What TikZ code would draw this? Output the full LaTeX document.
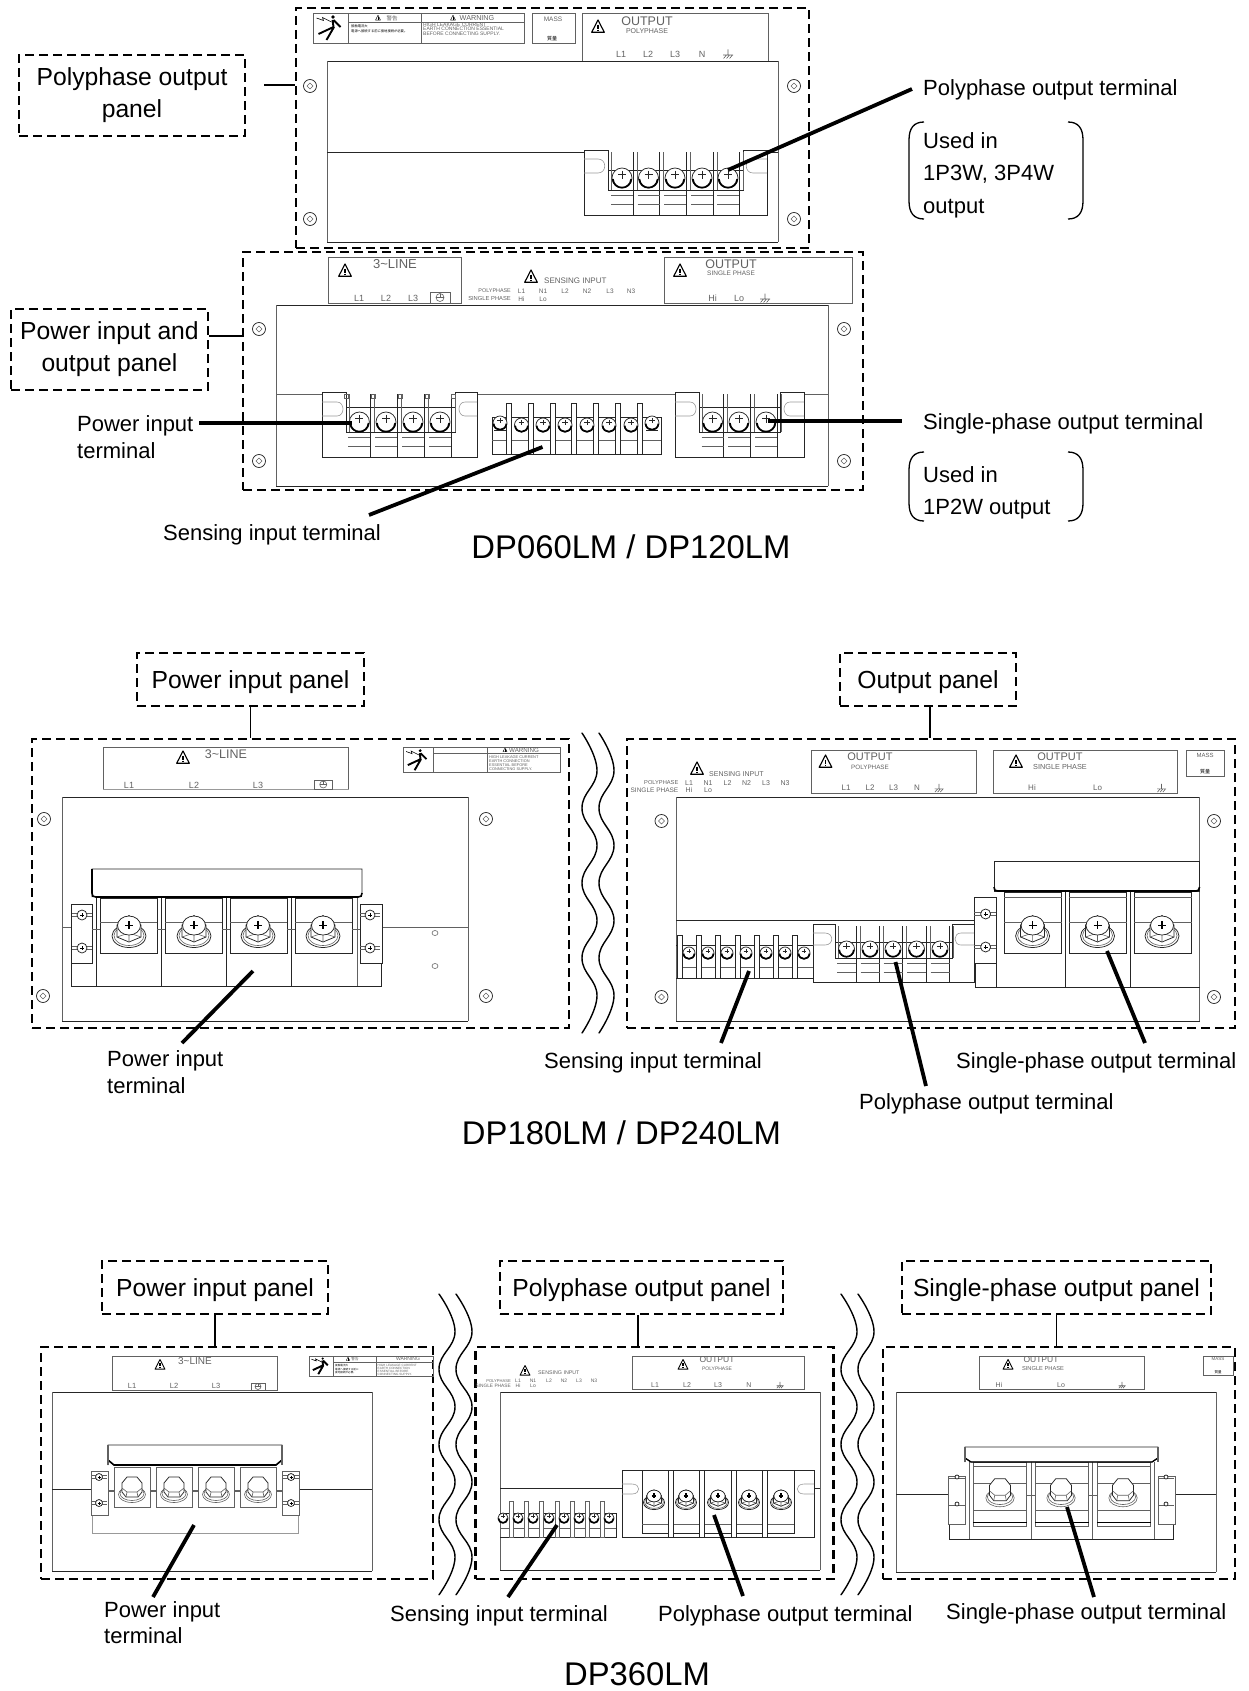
\documentclass[tikz,border=0pt]{standalone}
\usepackage{fontspec}
\setmainfont{Liberation Sans}
\newfontfamily\cjk{Noto Sans CJK JP}
\definecolor{cad}{gray}{0.15}
\definecolor{cadg}{gray}{0.38}
\definecolor{cadl}{gray}{0.6}
\newcount\txn
\tikzset{
  dbox/.style={draw=black,line width=2.1pt,dash pattern=on 9pt off 5pt,inner sep=0pt,align=center,font=\fontsize{24.7}{32}\selectfont},
  sbox/.style={dbox,text height=21pt,text depth=3.4pt},
  lbl/.style={inner sep=0pt,anchor=west,align=left,font=\fontsize{22}{26}\selectfont,text height=16pt,text depth=5pt,yshift=-2.5pt},
  ttl/.style={inner sep=0pt,font=\fontsize{32.8}{36}\selectfont,yshift=-1pt},
  lead/.style={draw=black,line width=3.8pt},
  tie/.style={draw=black,line width=1.7pt},
  cadl0/.style={draw=cad,line width=.75pt},
  soft/.style={draw=cadg,line width=.6pt},
  pale/.style={draw=cadl,line width=.6pt},
  wavy/.style={draw=black,line width=1.4pt,line cap=round},
  brk/.style={draw=black,line width=1.3pt},
  txt/.style={inner sep=0pt,text=cadg}
}
\newcommand\tx[4]{\global\advance\txn by 1 \node[txt,font=\fontsize{#1}{#1}\selectfont] (tx\the\txn) at (#2,#3) {#4};}
\newcommand\txr[4]{\global\advance\txn by 1 \node[txt,anchor=east,font=\fontsize{#1}{#1}\selectfont] (tx\the\txn) at (#2,#3) {#4};}
\newcommand\txl[4]{\global\advance\txn by 1 \node[txt,anchor=west,font=\fontsize{#1}{#1}\selectfont] (tx\the\txn) at (#2,#3) {#4};}
% chassis outline: dark top and bottom, lighter sides
\newcommand\chassis[4]{\draw[cadl0] (#1,#2)--(#3,#2) (#1,#4)--(#3,#4);\draw[soft] (#1,#2)--(#1,#4) (#3,#2)--(#3,#4);}
% panel screw
\newcommand\pscr[2]{\draw[cadl0] (#1,#2) circle (6.5pt);\draw[soft,line width=.5pt] (#1-3,#2)--(#1,#2-3)--(#1+3,#2)--(#1,#2+3)--cycle;}
% terminal screw
\newcommand\tsc[3]{\draw[cadl0,fill=white] (#1,#2) circle (#3pt);
 \draw[black,line width=1.7pt] (#1-.92*#3,#2+.1*#3) .. controls (#1-.8*#3,#2+1.25*#3) and (#1+.8*#3,#2+1.25*#3) .. (#1+.92*#3,#2+.1*#3);
 \draw[cadl0] (#1-.4*#3,#2-.35*#3)--(#1+.4*#3,#2-.35*#3) (#1,#2-.75*#3)--(#1,#2+.05*#3);}
% warning triangle
\newcommand\wtri[3]{\draw[black,line width=.16*#3 pt,line join=round] (#1,#2-#3)--(#1-.9*#3,#2+.75*#3)--(#1+.9*#3,#2+.75*#3)--cycle;
 \draw[black,line width=.2*#3 pt] (#1,#2-.35*#3)--(#1,#2+.25*#3) (#1,#2+.38*#3)--(#1,#2+.56*#3);}
% earth symbol
\newcommand\gndm[3]{\draw[soft] (#1,#2-4.5*#3)--(#1,#2+1*#3) (#1-5*#3,#2+1*#3)--(#1+5*#3,#2+1*#3)
 (#1-4.5*#3,#2+4.5*#3)--(#1-1.5*#3,#2+1*#3) (#1-1.5*#3,#2+4.5*#3)--(#1+1.5*#3,#2+1*#3) (#1+1.5*#3,#2+4.5*#3)--(#1+4.5*#3,#2+1*#3);}
% protective earth in a frame
\newcommand\pegr[5]{\draw[soft] (#1,#4)--(#1,#3)--(#2,#3)--(#2,#4)--cycle;
 \draw[soft] ({(#1+#2)/2},{(#3+#4)/2}) circle (#5pt);
 \draw[soft] ({(#1+#2)/2-#5},{(#3+#4)/2})--({(#1+#2)/2+#5},{(#3+#4)/2}) ({(#1+#2)/2},{(#3+#4)/2-#5})--({(#1+#2)/2},{(#3+#4)/2});}
% shock pictogram
\newcommand\shock[3]{\begin{scope}[shift={(#1,#2)},scale=#3]
 \fill[black] (2.5,-11) circle (1.8pt);
 \draw[black,line width=.6pt] (-14,-10)--(-7,-7.5)--(-8,-10.5)--(1,-6);
 \draw[black,line width=1.9pt] (2,-8)--(3,-1)--(-12,6) (3.5,-1)--(-4,12) (3,-8)--(10,-1) ;
 \end{scope}}
% slot in an ear: outer x, x of the bulge, y top, y bottom, x where the curve starts
\newcommand\slotc[5]{\draw[pale] (#1,#3)--(#5,#3) .. controls (#2,#3) and (#2,#4) .. (#5,#4)--(#1,#4);}
% terminal block with two slotted ears
\def\so{11}\def\sw{4}
\newcommand\tblock[9]{
 \draw[cadl0] (#2,#7)--(#2,#5)--(#1,#5)--(#1,#8)--(#4,#8)--(#4,#5)--(#3,#5)--(#3,#7);
 \draw[cadl0] (#2,#6) rectangle (#3,#7);
 \draw[soft] (#2+3,#5+2)--(#2+3,#7);
 \foreach \s in {#9}{
  \draw[cadl0] (\s+\so,#5+2)--(\s+\so,#8);
  \draw[soft] (\s+\so+\sw,#5+2)--(\s+\so+\sw,#7);
  \draw[soft] (\s-\so,#7+5)--(\s+\so,#7+5) (\s-\so,#7+14)--(\s+\so,#7+14);
 }
}
% hexagon bolt with a round, cross-slotted head
\newcommand\hexbolt[3]{\begin{scope}[shift={(#1,#2)},scale=#3]
 \draw[cadl0,fill=white] (0,4) ellipse (17pt and 11.5pt);
 \draw[soft] (0,3.5) ellipse (15pt and 10pt);
 \draw[cadl0,fill=white] (-12,-7)--(0,-16.5)--(12,-7)--(12,5)--(0,10)--(-12,5)--cycle;
 \draw[soft] (0,1)--(0,10) (0,1)--(-12,5) (0,1)--(12,5);
 \draw[cadl0,fill=white] (0,-6.5) ellipse (11.5pt and 9.5pt);
 \draw[black,line width=1.3pt] (-4,-6.5)--(4,-6.5) (0,-11)--(0,-3);
 \end{scope}}
% hexagon bolt with a plain head
\newcommand\plainbolt[4]{\begin{scope}[shift={(#1,#2)},xscale=#3,yscale=#4]
 \draw[soft,fill=white] (0,4.5) ellipse (13.5pt and 8pt);
 \draw[soft] (0,3.5) ellipse (12pt and 7pt);
 \draw[cadl0,fill=white] (-10,2)--(-10,-7)--(-5,-13)--(5,-13)--(10,-7)--(10,2)--(6,7)--(-6,7)--cycle;
 \draw[soft] (-10,-2)--(-5,2)--(5,2)--(10,-2) (-5,2)--(-6,7) (5,2)--(6,7);
 \end{scope}}
% small bracket pair of the notes
\newcommand\brkt[4]{\draw[brk] (#1+16,#3) .. controls (#1+6,#3) and (#1+1,#3+6) .. (#1+1,#3+18)--(#1+1,#4-18) .. controls (#1+1,#4-6) and (#1+6,#4) .. (#1+16,#4);
 \draw[brk] (#2-16,#3) .. controls (#2-6,#3) and (#2-1,#3+6) .. (#2-1,#3+18)--(#2-1,#4-18) .. controls (#2-1,#4-6) and (#2-6,#4) .. (#2-16,#4);}
% wavy break line
\newcommand\wave[4]{\draw[wavy] plot[smooth,tension=.75] coordinates {(#1,#3) (#2,{#3+#4}) (#1,{#3+2*#4}) (#2,{#3+3*#4}) (#1,{#3+4*#4}) (#2,{#3+5*#4}) (#1,{#3+6*#4}) (#2,{#3+7*#4}) (#1,{#3+8*#4})};}
\begin{document}
\begin{tikzpicture}[x=1pt,y=-1pt]
\useasboundingbox (0,0) rectangle (1249,1691);
%% ===================== DP060LM / DP120LM =====================
\node[dbox,minimum width=513pt,minimum height=240pt] (pa) at (552.5,128) {};
\node[dbox,minimum width=620pt,minimum height=238pt] (pb) at (553,371) {};
\node[dbox,minimum width=226pt,minimum height=81pt] (ba) at (132,95.5) {Polyphase output\\panel};
\node[dbox,minimum width=197pt,minimum height=81pt] (bb) at (109.5,349.5) {Power input and\\output panel};
\coordinate (tb) at (bb.east |- 0,336);
\draw[tie] (264,85)--(pa.west |- 0,85);
\draw[tie] (tb)--(pb.west |- tb);
% top panel
\draw[soft] (313,13) rectangle (524,43) (348,13)--(348,43) (421,13)--(421,43) (348,22)--(524,22);
\shock{330.5}{28}{1}
\wtri{378}{18}{2.8}
\tx{5.5}{392}{18}{\cjk 警告}
\wtri{453}{18}{2.8}
\tx{7.2}{477}{18}{WARNING}
\txl{3.3}{351}{26}{\cjk\color{black} 接触電流大}
\txl{3.3}{351}{31}{\cjk\color{black} 電源へ接続する前に接地接続が必要。}
\txl{5}{423}{25}{HIGH LEAKAGE CURRENT}
\txl{5}{423}{29}{EARTH CONNECTION ESSENTIAL}
\txl{5}{423}{33.5}{BEFORE CONNECTING SUPPLY.}
\draw[soft] (532,13) rectangle (575,43);
\tx{6.5}{553}{19}{MASS}
\tx{5}{552}{39}{\cjk\color{black} 質量}
\draw[soft] (582,13) rectangle (768,61);
\wtri{598}{27}{7}
\tx{12.5}{647}{21}{OUTPUT}
\tx{7}{647}{31}{POLYPHASE}
\foreach \x/\t in {621/L1,648/L2,675/L3,702/N}{\tx{9}{\x}{54}{\t}}
\gndm{728}{54}{1}
\chassis{327}{61}{778}{242}
\draw[cadl0] (327,152)--(584,152) (767,152)--(778,152);
\pscr{310}{86}\pscr{310}{219}\pscr{794}{86}\pscr{794}{219}
\def\so{11}\def\sw{4}
\tblock{584}{608}{743}{767}{150}{170}{190}{215}{622,648.5,675,702,728}
\slotc{584}{607}{159}{173}{598}
\slotc{767}{744}{159}{173}{753}
\foreach \x in {622,648.5,675,702,728}{\tsc{\x}{178}{10}}
% second panel
\draw[soft] (328,257) rectangle (461,303);
\wtri{345}{271}{7}
\tx{13}{395}{264}{3\textasciitilde LINE}
\foreach \x/\t in {359/L1,386/L2,413/L3}{\tx{9}{\x}{298}{\t}}
\pegr{430}{450}{292}{303}{4}
\wtri{531}{277}{7}
\txl{8}{544}{281}{SENSING INPUT}
\txr{5.4}{511}{291}{POLYPHASE}
\txr{5.8}{511}{299}{SINGLE PHASE}
\foreach \x/\t in {521.5/L1,543/N1,565/L2,587/N2,610/L3,631/N3}{\tx{6.5}{\x}{291}{\t}}
\foreach \x/\t in {521.5/Hi,543/Lo}{\tx{6.5}{\x}{299}{\t}}
\draw[soft] (664,257) rectangle (852,303);
\wtri{680}{271}{7}
\tx{12.5}{731}{264}{OUTPUT}
\tx{6.5}{731}{273}{SINGLE PHASE}
\foreach \x/\t in {712.5/Hi,739/Lo}{\tx{9}{\x}{298}{\t}}
\gndm{765}{298}{1}
\chassis{276}{305}{828}{486}
\draw[soft] (276,394)--(322,394) (477,394)--(675,394) (804,394)--(828,394);
\pscr{259}{329}\pscr{259}{461}\pscr{844}{329}\pscr{844}{461}
\tblock{322}{346}{455.5}{477}{392}{407}{432}{457}{359.4,386,413,440}
\slotc{322}{345}{402}{416}{337}
\slotc{477}{457}{402}{416}{465}
\foreach \x in {346,373,400,427,453}{\draw[soft] (\x-2,394) rectangle (\x+2,398);}
\foreach \x in {359.4,386,413,440}{\tsc{\x}{422}{10}}
\tblock{675}{699}{780.5}{804}{392}{407}{432}{457}{712.5,739,766}
\slotc{675}{698}{402}{416}{690}
\slotc{804}{782}{402}{416}{790}
\foreach \x in {712.5,739,766}{\tsc{\x}{422}{10}}
% sensing block
\draw[cadl0] (492,417) rectangle (661,454);
\draw[soft] (492,440)--(661,440);
\foreach \x in {509,531,553,574,596,618,640}{\draw[cadl0,fill=white] (\x-2.5,403) rectangle (\x+2.5,454);}
\foreach \x in {521.5,543,565,587,609,631}{\tsc{\x}{425}{7}}
\foreach \x in {500,652}{\tsc{\x}{423}{7}\draw[cadl0] (\x-6,430) -- (\x+6,430);}
% labels
\node[lbl] (t1) at (923,88) {Polyphase output terminal};
\node[lbl] (u1a) at (923,140) {Used in};
\node[lbl] (u1b) at (923,172) {1P3W, 3P4W};
\node[lbl] (u1c) at (923,205) {output};
\brkt{908}{1084}{122}{219}
\node[lbl] (t2) at (77,423) {Power input};
\node[lbl] (t2b) at (77,450) {terminal};
\node[lbl] (t3) at (163,532) {Sensing input terminal};
\node[lbl] (t4) at (923,421) {Single-phase output terminal};
\node[lbl] (u2a) at (923,474) {Used in};
\node[lbl] (u2b) at (923,506) {1P2W output};
\brkt{908}{1084}{452}{521}
\node[ttl] (ta) at (631,546) {DP060LM / DP120LM};
\coordinate (c1) at (728,170);
\coordinate (c2) at (352,423);
\coordinate (c3a) at (542.5,447);
\coordinate (c3b) at (369,515);
\coordinate (c4) at (768,421);
\coordinate (c1e) at (912,89);
\coordinate (c2e) at (199,423);
\coordinate (c4e) at (902,421);
\draw[lead] (c1)--(c1e);
\draw[lead] (c2)--(c2e);
\draw[lead] (c3a)--(c3b);
\draw[lead] (c4)--(c4e);
%% ===================== DP180LM / DP240LM =====================
\node[dbox,minimum width=537pt,minimum height=289pt] (pc) at (300.5,883.5) {};
\node[dbox,minimum width=608pt,minimum height=289pt] (pd) at (931,883.5) {};
\node[sbox,minimum width=227pt,minimum height=53pt] (bc) at (250.5,679.5) {Power input panel};
\node[sbox,minimum width=176pt,minimum height=53pt] (bd) at (928,679.5) {Output panel};
\draw[tie] (bc.south)--(bc.south |- pc.north);
\draw[tie] ([xshift=2pt]bd.south)--([xshift=2pt]bd.south |- pd.north);
\wave{582}{597}{733}{37.5}
\wave{599}{614}{733}{37.5}
% left panel
\draw[soft] (103,789)--(103,747)--(348.5,747)--(348.5,789);
\draw[pale] (103,789)--(348.5,789);
\wtri{183}{758}{7}
\tx{12.5}{226}{754}{3\textasciitilde LINE}
\foreach \x/\t in {129/L1,194/L2,258/L3}{\tx{9}{\x}{785}{\t}}
\pegr{314.5}{332}{780}{789}{3.5}
\draw[soft] (403,747) rectangle (560,772) (433,747)--(433,772) (487,747)--(487,772) (433,753)--(560,753);
\shock{418}{760}{.85}
\wtri{505}{750}{2.3}
\tx{6.2}{524}{750}{WARNING}
\txl{3.9}{489}{757}{HIGH LEAKAGE CURRENT}
\txl{3.9}{489}{761}{EARTH CONNECTION}
\txl{3.9}{489}{765}{ESSENTIAL BEFORE}
\txl{3.9}{489}{769}{CONNECTING SUPPLY.}
\chassis{62}{797}{468}{1021}
\draw[soft] (62,927)--(71,927) (382,927)--(468,927);
\pscr{44}{819}\pscr{43}{996}\pscr{486}{819}\pscr{486}{996}
\draw[cadl0] (71,963)--(71,986)--(381,986)--(381,963);
\draw[cadl0] (71,904) rectangle (92,963);
\draw[cadl0] (360,963)--(360,904)--(382,904)--(382,963)--cycle;
\foreach \x/\y in {82/915,82/948,370/915,370/948}{
 \draw[soft] (\x-10,\y+1)--(\x+10,\y+1) (\x-10,\y-2)--(\x+10,\y-2);
 \draw[cadl0,fill=white] (\x,\y) circle (5pt);
 \draw[black,line width=.8pt] (\x-2,\y)--(\x+2,\y) (\x,\y-2)--(\x,\y+2);}
\foreach \x in {96,161,226,291}{\draw[cadl0] (\x,898)--(\x,986);}
\draw[soft] (357,898)--(357,986);
\foreach \x in {100,165,230,295}{
 \draw[cadl0] (\x,898) rectangle (\x+57,953);
 \draw[soft] (\x,922)--(\x+57,922);}
\draw[soft] (92,929)--(100,929) (157,929)--(165,929) (222,929)--(230,929) (287,929)--(295,929) (352,929)--(360,929);
\draw[cadl0,fill=white] (92,897)--(92,869)--(362,869)--(362,893) .. controls (362,896) and (361,897) .. (358,897)--(96,897) .. controls (93,897) and (92,896) .. (92,893);
\draw[black,line width=1.6pt] (92,869)--(92,893) .. controls (92,896) and (93,897) .. (96,897)--(358,897) .. controls (361,897) and (362,896) .. (362,893);
\foreach \x in {129,194,258,323}{\hexbolt{\x}{932}{1}}
\draw[soft] (435,933) ellipse (3pt and 2.5pt) (435,966) ellipse (3pt and 2.5pt);
% right panel
\wtri{697}{769}{7}
\txl{7}{709}{774}{SENSING INPUT}
\txr{5.7}{678.5}{783}{POLYPHASE}
\txr{6.5}{678.5}{790}{SINGLE PHASE}
\foreach \x/\t in {689/L1,708/N1,727.5/L2,746.5/N2,766/L3,785/N3}{\tx{7}{\x}{783}{\t}}
\foreach \x/\t in {689/Hi,708/Lo}{\tx{7}{\x}{790}{\t}}
\draw[soft] (811,750) rectangle (976,793);
\wtri{825.5}{762}{7}
\tx{11}{870}{757}{OUTPUT}
\tx{6.3}{870}{767}{POLYPHASE}
\foreach \x/\t in {846/L1,870/L2,893.5/L3,917/N}{\tx{8}{\x}{788}{\t}}
\gndm{939}{788}{.9}
\draw[soft] (993,750) rectangle (1177,793);
\wtri{1016}{762}{7}
\tx{11}{1060}{757}{OUTPUT}
\tx{7.3}{1060}{767}{SINGLE PHASE}
\foreach \x/\t in {1032/Hi,1097.5/Lo}{\tx{8}{\x}{788}{\t}}
\gndm{1161.5}{788}{.9}
\draw[soft] (1186,750) rectangle (1224,776);
\tx{6}{1205}{755}{MASS}
\tx{5}{1205}{772}{\cjk\color{black} 質量}
\chassis{676}{797}{1199.5}{1021}
\pscr{661.5}{821}\pscr{661.5}{997}\pscr{1214}{821}\pscr{1214}{997}
\draw[cadl0] (676,920)--(974,920);
% sensing strip
\draw[cadl0] (676,945)--(812.5,945) (676,978)--(812.5,978);
\draw[soft] (676,967)--(812.5,967);
\foreach \x in {679.5,698.5,718,737.5,756.5,775.5,794.5}{\draw[cadl0,fill=white] (\x-2.5,935) rectangle (\x+2.5,978);}
\foreach \x in {689,708,727,746,766,785,804}{\tsc{\x}{953}{6}}
% polyphase block
\def\so{9.5}
\tblock{813}{835.5}{952}{974}{924}{942}{958}{982}{846.5,870,893,916.5,940}
\slotc{813}{834}{933}{945}{825}
\slotc{974}{953}{933}{945}{961}
\foreach \x in {846.5,870,893,916.5,940}{\tsc{\x}{949}{8}}
\def\so{11}
% single phase
\draw[cadl0] (975,963)--(975,987)--(1199.5,987);
\draw[cadl0] (974,897) rectangle (996,963);
\foreach \y in {914,947}{
 \draw[soft] (974,\y+1)--(996,\y+1) (974,\y-2)--(996,\y-2);
 \draw[cadl0,fill=white] (985.6,\y) circle (5pt);
 \draw[black,line width=.8pt] (983.6,\y)--(987.6,\y) (985.6,\y-2)--(985.6,\y+2);}
\draw[cadl0] (996,963)--(996,987) (1065,892)--(1065,987) (1130,892)--(1130,987);
\foreach \x in {1004,1069,1134}{
 \draw[cadl0] (\x,892) rectangle (\x+57.5,953);
 \draw[soft] (\x,897)--(\x+57.5,897) (\x,922)--(\x+57.5,922);}
\draw[cadl0,fill=white] (994,891)--(994,861)--(1199.5,861)--(1199.5,891)--cycle;
\draw[black,line width=1.6pt] (994,887) .. controls (994,890) and (995,891) .. (998,891)--(1196,891) .. controls (1198,891) and (1199.5,890) .. (1199.5,887);
\foreach \x in {1032.6,1097.5,1162}{\hexbolt{\x}{932}{1}}
% labels
\node[lbl] (t5) at (107,1058) {Power input};
\node[lbl] (t5b) at (107,1085) {terminal};
\node[lbl] (t6) at (544,1060) {Sensing input terminal};
\node[lbl] (t7) at (956,1060) {Single-phase output terminal};
\node[lbl] (t8) at (859,1101) {Polyphase output terminal};
\node[ttl] (tb2) at (621.5,1132) {DP180LM / DP240LM};
\coordinate (d1a) at (253,971);\coordinate (d1b) at (182,1043);
\coordinate (d2a) at (749,971);\coordinate (d2b) at (721,1043);
\coordinate (d3a) at (895.5,962);\coordinate (d3b) at (926,1086);
\coordinate (d4a) at (1107,951);\coordinate (d4b) at (1145,1043);
\draw[lead] (d1a)--(d1b);\draw[lead] (d2a)--(d2b);\draw[lead] (d3a)--(d3b);\draw[lead] (d4a)--(d4b);
%% ===================== DP360LM =====================
\node[dbox,minimum width=392pt,minimum height=232pt] (pe) at (237,1463) {};
\node[dbox,minimum width=358pt,minimum height=232pt] (pf) at (654.5,1463) {};
\node[dbox,minimum width=352pt,minimum height=232pt] (pg) at (1059,1463) {};
\node[sbox,minimum width=226pt,minimum height=53pt] (be) at (215,1287.5) {Power input panel};
\node[sbox,minimum width=283pt,minimum height=53pt] (bf) at (641.5,1287.5) {Polyphase output panel};
\node[sbox,minimum width=309pt,minimum height=53pt] (bg) at (1056.5,1287.5) {Single-phase output panel};
\draw[tie] (be.south)--(be.south |- pe.north);
\draw[tie] ([xshift=-3.5pt]bf.south)--([xshift=-3.5pt]bf.south |- pf.north);
\draw[tie] (bg.south)--(bg.south |- pg.north);
\wave{439}{455}{1294}{37.6}
\wave{456}{472}{1294}{37.6}
\wave{841}{857}{1294}{37.6}
\wave{858}{874}{1294}{37.6}
% left
\draw[soft] (112.7,1356) rectangle (277.7,1390);
\wtri{160}{1365}{5.5}
\tx{10}{195}{1361}{3\textasciitilde LINE}
\foreach \x/\t in {132/L1,174/L2,216/L3}{\tx{7.5}{\x}{1386}{\t}}
\pegr{251}{265}{1383}{1390}{3}
\draw[soft] (309,1356) rectangle (433,1376) (333,1356)--(333,1376) (376,1356)--(376,1376) (333,1362)--(433,1362);
\shock{321}{1366}{.68}
\wtri{348}{1359}{2}
\tx{3.6}{355}{1359}{\cjk 警告}
\tx{5}{408}{1359}{WARNING}
\txl{2.6}{335}{1365.5}{\cjk\color{black} 接触電流大}
\txl{2.6}{335}{1369}{\cjk\color{black} 電源へ接続する前に}
\txl{2.6}{335}{1372.5}{\cjk\color{black} 接地接続が必要。}
\txl{3.1}{377.5}{1365}{HIGH LEAKAGE CURRENT}
\txl{3.1}{377.5}{1368}{EARTH CONNECTION}
\txl{3.1}{377.5}{1371}{ESSENTIAL BEFORE}
\txl{3.1}{377.5}{1374}{CONNECTING SUPPLY.}
\chassis{52}{1392}{372}{1571}
\draw[cadl0] (52,1489)--(91,1489) (299,1489)--(372,1489);
\draw[pale] (92,1515)--(92,1533)--(298,1533)--(298,1515);
\foreach \x in {91,282}{\draw[soft,fill=white] (\x,1471) rectangle (\x+17,1515);}
\foreach \x/\y in {99/1477,99/1503,291/1477,291/1503}{
 \draw[soft] (\x-8,\y+1)--(\x+8,\y+1) (\x-8,\y-2)--(\x+8,\y-2);
 \draw[cadl0,fill=white] (\x,\y) circle (3.5pt);
 \draw[black,line width=.7pt] (\x-1.5,\y)--(\x+1.5,\y) (\x,\y-1.5)--(\x,\y+1.5);}
\draw[cadl0,fill=white] (108,1465)--(108,1445)--(282,1445)--(282,1460)--(276,1465)--(114,1465)--(108,1460);
\draw[black,line width=1.6pt] (108,1460)--(114,1465)--(276,1465)--(282,1460);
\draw[cadg,line width=1.8pt] (108,1445)--(108,1465) (282,1445)--(282,1465);
\draw[soft,line width=1.4pt] (108,1491)--(282,1491);
\foreach \x in {114,156,198,240}{\draw[soft,fill=white] (\x,1467) rectangle (\x+36,1507);}
\foreach \x in {132,174,216,258}{\plainbolt{\x}{1490}{1}{1}}
% middle
\wtri{525}{1371}{5.5}
\txl{5.3}{538}{1373}{SENSING INPUT}
\txr{4.1}{511}{1381}{POLYPHASE}
\txr{4.8}{511}{1386}{SINGLE PHASE}
\foreach \x/\t in {518/L1,533/N1,549/L2,564/N2,579/L3,594/N3}{\tx{5}{\x}{1381}{\t}}
\foreach \x/\t in {518/Hi,533/Lo}{\tx{5}{\x}{1386}{\t}}
\draw[soft] (632,1356) rectangle (804,1389);
\wtri{683}{1365}{5.5}
\tx{8.5}{717}{1360}{OUTPUT}
\tx{5}{717}{1369}{POLYPHASE}
\foreach \x/\t in {655/L1,687/L2,718/L3,749/N}{\tx{7}{\x}{1385}{\t}}
\gndm{780}{1385}{.7}
\chassis{500}{1392}{820}{1570}
\draw[cadl0] (500,1488)--(622,1488) (814,1488)--(820,1488);
\draw[cadl0] (500,1513)--(616,1513) (616,1513)--(616,1537)--(500,1537);
\draw[soft] (500,1528)--(616,1528);
\foreach \x in {511,526,541,557,572,587,602}{\draw[soft,fill=white] (\x-2,1501) rectangle (\x+2,1537);}
\foreach \x in {503,518,533,549,564,579,594,609}{\tsc{\x}{1518}{5}}
\draw[cadl0] (622,1537) rectangle (814,1470);
\draw[cadl0] (642,1470)--(642,1533)--(794,1533)--(794,1470);
\draw[soft] (642,1524)--(794,1524);
\foreach \x in {670.5,702,734,765}{\draw[cadl0,fill=white] (\x-2.5,1470) rectangle (\x+2.5,1537);}
\slotc{622}{641}{1484}{1494}{632}
\slotc{814}{795}{1484}{1494}{804}
\foreach \x in {654,686,718,749,781}{\hexbolt{\x}{1500}{.62}}
% right
\draw[soft] (979,1356) rectangle (1144,1389);
\wtri{1008}{1365}{5.5}
\tx{8.5}{1041}{1360}{OUTPUT}
\tx{5.7}{1043}{1369}{SINGLE PHASE}
\foreach \x/\t in {999/Hi,1061/Lo}{\tx{7}{\x}{1385}{\t}}
\gndm{1122}{1385}{.7}
\draw[soft] (1203,1356) rectangle (1233,1375);
\tx{4.5}{1218}{1359}{MASS}
\tx{3.5}{1218}{1372}{\cjk\color{black} 質量}
\chassis{896}{1392}{1216}{1572}
\draw[cadl0] (896,1494)--(948,1494) (1175,1494)--(1216,1494);
\draw[cadl0] (949,1524)--(949,1539)--(1173,1539)--(1173,1524);
\foreach \x in {948,1158}{\draw[soft,fill=white] (\x,1476) rectangle (\x+17,1524);}
\foreach \x/\y in {957/1477,957/1504,1166/1477,1166/1504}{
 \draw[soft] (\x-8,\y+1)--(\x+8,\y+1);
 \draw[cadl0,fill=white] (\x,\y) circle (2pt);}
\foreach \x in {969,1031,1092,1154}{\draw[soft] (\x,1462)--(\x,1539);}
\foreach \x in {973,1035,1097}{
 \draw[soft,fill=white] (\x,1462) rectangle (\x+53.5,1526);
 \draw[soft] (\x,1466)--(\x+53.5,1466) (\x,1483)--(\x+53.5,1483) (\x,1510)--(\x+53.5,1510);
 \draw[black,line width=1pt] (\x,1522)--(\x+53.5,1522);}
\draw[soft] (1027,1495)--(1035,1495) (1088.5,1495)--(1097,1495);
\draw[cadl0,fill=white] (965,1462)--(965,1447)--(1158,1447)--(1158,1458)--(1152,1462)--(971,1462)--(965,1458);
\draw[black,line width=1.3pt] (965,1458)--(971,1462)--(1152,1462)--(1158,1458);
\draw[cadg,line width=1.8pt] (965,1447)--(965,1462) (1158,1447)--(1158,1462);
\foreach \x in {1000,1061,1123}{\plainbolt{\x}{1493}{1.05}{1.1}}
% labels
\node[lbl] (t9) at (104,1609) {Power input};
\node[lbl] (t9b) at (104,1635) {terminal};
\node[lbl] (t10) at (390,1613) {Sensing input terminal};
\node[lbl] (t11) at (658,1613) {Polyphase output terminal};
\node[lbl] (t12) at (946,1611) {Single-phase output terminal};
\node[ttl] (tc) at (637,1673) {DP360LM};
\coordinate (e1a) at (194,1525);\coordinate (e1b) at (153,1597);
\coordinate (e2a) at (557,1525);\coordinate (e2b) at (508,1597);
\coordinate (e3a) at (714,1515);\coordinate (e3b) at (743,1596);
\coordinate (e4a) at (1067,1507);\coordinate (e4b) at (1094,1597);
\draw[lead] (e1a)--(e1b);\draw[lead] (e2a)--(e2b);\draw[lead] (e3a)--(e3b);\draw[lead] (e4a)--(e4b);
\end{tikzpicture}
\end{document}
